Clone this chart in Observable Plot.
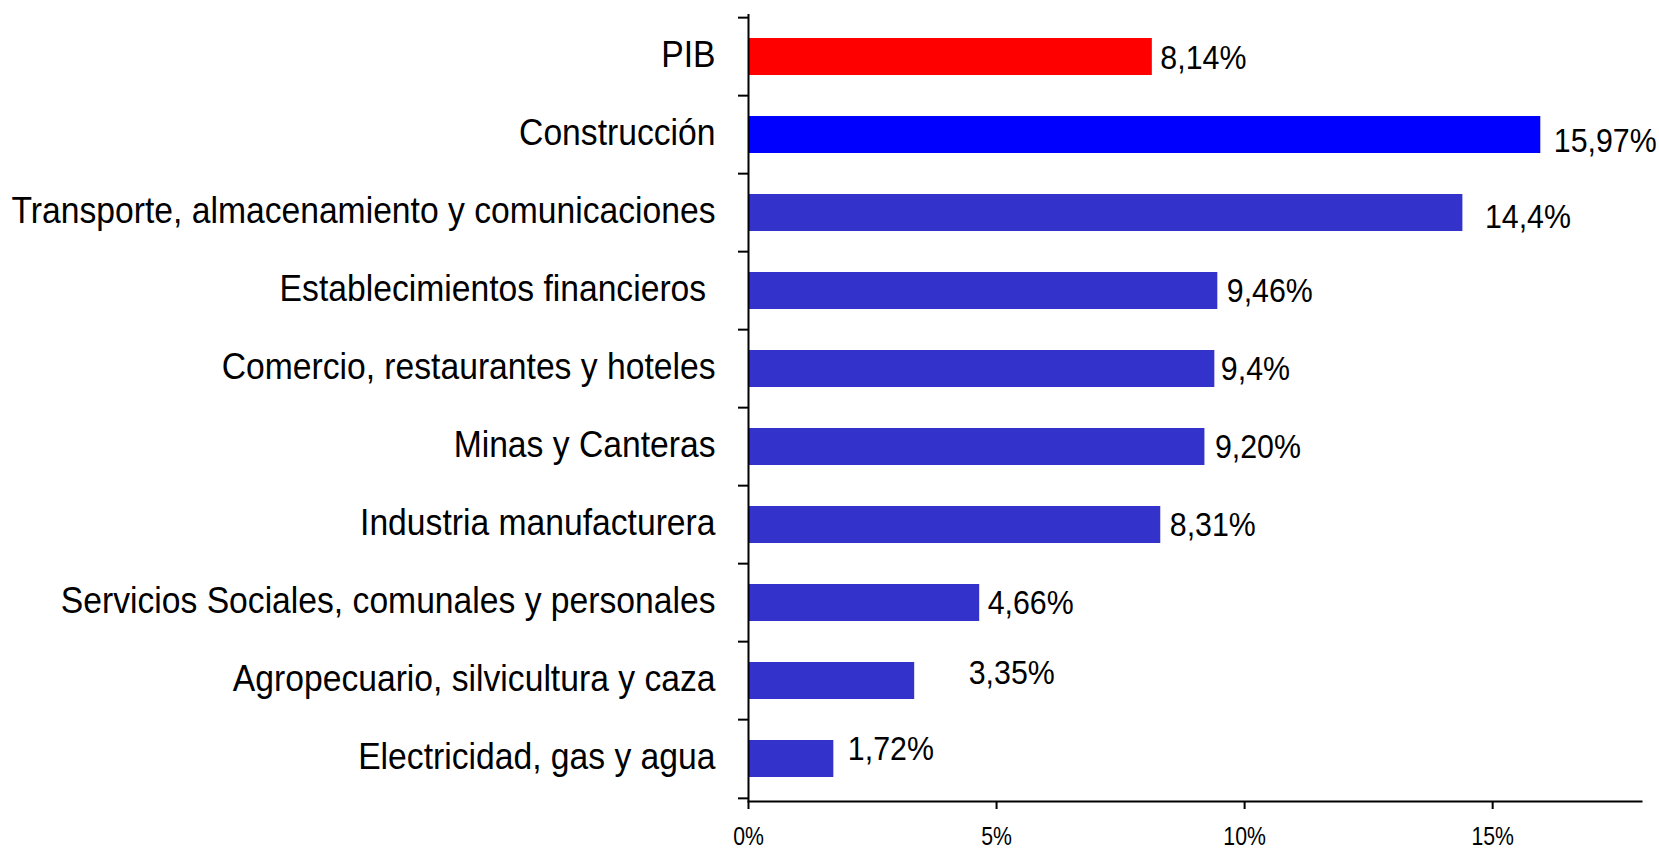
<!DOCTYPE html>
<html>
<head>
<meta charset="utf-8">
<script src="https://cdn.jsdelivr.net/npm/d3@7"></script>
<script src="https://cdn.jsdelivr.net/npm/@observablehq/plot@0.6"></script>
<style>
  html, body { margin: 0; padding: 0; background: #fff; }
  svg { display: block; }
</style>
</head>
<body>
<div id="chart"></div>
<script>
const categories = [
  "PIB",
  "Construcción",
  "Transporte, almacenamiento y comunicaciones",
  "Establecimientos financieros ",
  "Comercio, restaurantes y hoteles",
  "Minas y Canteras",
  "Industria manufacturera",
  "Servicios Sociales, comunales y personales",
  "Agropecuario, silvicultura y caza",
  "Electricidad, gas y agua"
];
const values = [8.14, 15.97, 14.4, 9.46, 9.4, 9.2, 8.31, 4.66, 3.35, 1.72];
const valueLabels = ["8,14%", "15,97%", "14,4%", "9,46%", "9,4%", "9,20%", "8,31%", "4,66%", "3,35%", "1,72%"];
const barColors = ["#FF0000", "#0000FF", "#3333CC", "#3333CC", "#3333CC", "#3333CC", "#3333CC", "#3333CC", "#3333CC", "#3333CC"];
const labelDx = [8, 13, 22, 9, 6, 10, 9, 8, 54, 14];
const labelDy = [1.5, 6, 4, 0, 0, 0, 0, 0, -8, -10];
const xTicks = [0, 5, 10, 15];
const xTickLabels = ["0%", "5%", "10%", "15%"];

const data = categories.map((c, i) => ({
  cat: c, value: values[i], label: valueLabels[i], color: barColors[i]
}));

const W = 1659, H = 850;
const mTop = 14, mBottom = 49, mLeft = 748, mRight = 18;
const step = (H - mTop - mBottom) / categories.length;

const chart = Plot.plot({
  width: W,
  height: H,
  marginTop: mTop,
  marginBottom: mBottom,
  marginLeft: mLeft,
  marginRight: mRight,
  style: { fontFamily: "'Liberation Sans', Arial, sans-serif", color: "#000", background: "#fff" },
  x: { domain: [0, 18] },
  y: { domain: categories, paddingInner: 0.524, paddingOuter: 0.262 },
  marks: [
    Plot.barX(data, { x: "value", y: "cat", fill: "color" }),
    Plot.ruleX([0], { stroke: "#000", strokeWidth: 2 }),
    Plot.frame({ anchor: "bottom", stroke: "#000", strokeWidth: 2 }),
    Plot.axisY({ tickSize: 0, tickPadding: 33, fontSize: 37, label: null, dy: -1.5 }),
    Plot.axisY({ tickSize: 10, tickFormat: () => "", label: null, dy: -step / 2, strokeWidth: 2 }),
    Plot.axisY({ ticks: [categories[categories.length - 1]], tickSize: 10, tickFormat: () => "", label: null, dy: step / 2, strokeWidth: 2 }),
    Plot.axisX({
      ticks: xTicks,
      tickFormat: d => xTickLabels[xTicks.indexOf(d)],
      tickSize: 8, tickPadding: 18, fontSize: 25, label: null, strokeWidth: 2
    }),
    ...data.map((d, i) => Plot.text([d], {
      x: "value", y: "cat", text: "label",
      textAnchor: "start", fontSize: 33, fill: "#000",
      dx: labelDx[i], dy: labelDy[i]
    }))
  ]
});

document.getElementById("chart").appendChild(chart);

// Condense text horizontally to match the narrow look of the original
function condense(selector, s) {
  d3.select(chart).selectAll(selector).each(function () {
    const el = d3.select(this);
    let t = el.attr("transform");
    if (t) {
      el.attr("transform", t + ` scale(${s},1)`);
    } else {
      const x = +el.attr("x") || 0, y = +el.attr("y") || 0;
      el.attr("x", null).attr("y", null).attr("transform", `translate(${x},${y}) scale(${s},1)`);
    }
  });
}
condense('g[aria-label="y-axis tick label"] text', 0.91);
condense('g[aria-label="x-axis tick label"] text', 0.85);
condense('g[aria-label="text"] text', 0.92);
</script>
</body>
</html>
